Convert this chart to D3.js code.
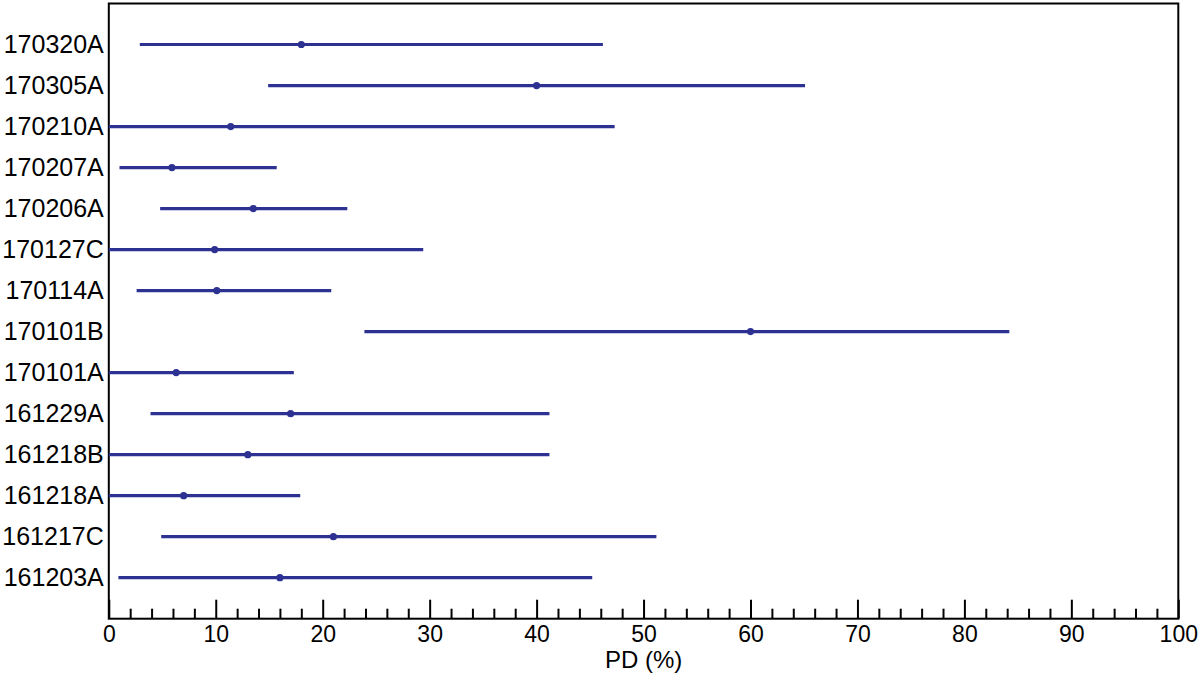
<!DOCTYPE html>
<html><head><meta charset="utf-8">
<script src="https://cdn.jsdelivr.net/npm/d3@7"></script>
<style>
body{margin:0;background:#fff;}
svg{display:block;font-family:"Liberation Sans",Arial,Helvetica,sans-serif;}
</style></head>
<body>
<svg id="chart" width="1200" height="678"></svg>
<script>
const categories = ["170320A","170305A","170210A","170207A","170206A","170127C","170114A","170101B","170101A","161229A","161218B","161218A","161217C","161203A"];
const pdValue = [18.0,40.0,11.4,5.9,13.5,9.9,10.1,60.0,6.3,17.0,13.0,7.0,21.0,16.0];
const pdLow   = [2.9,14.9,0,1.0,4.8,0,2.6,23.9,0,3.9,0,0,4.9,0.9];
const pdHigh  = [46.2,65.1,47.3,15.7,22.3,29.4,20.8,84.2,17.3,41.2,41.2,17.9,51.2,45.2];
const majorTicks = [0,10,20,30,40,50,60,70,80,90,100];
const xLabel = "PD (%)";

const svg = d3.select("#chart");
const L = 108.8, R = 1178.3, T = 3.5, B = 618.7;
const color = "#2d3192";

const x = d3.scaleLinear().domain([0,100]).range([L,R]);
const y = d3.scalePoint().domain(categories).range([T,B]).padding(1);

const data = categories.map((c,i)=>({c,v:pdValue[i],lo:pdLow[i],hi:pdHigh[i]}));

// frame
svg.append("rect").attr("x",L).attr("y",T).attr("width",R-L).attr("height",B-T)
  .attr("fill","none").attr("stroke","#000").attr("stroke-width",2);

// x axis: inward ticks
const minorTicks = d3.range(0,101,2).filter(t=>t%10!==0);
const xAxisMajor = d3.axisBottom(x).tickValues(majorTicks).tickSize(-19).tickPadding(7).tickFormat(d3.format("d"));
const gx = svg.append("g").attr("transform",`translate(0,${B})`).call(xAxisMajor);
gx.select(".domain").remove();
gx.selectAll(".tick line").attr("stroke","#000").attr("stroke-width",2);
gx.selectAll(".tick text").attr("font-size",23).attr("fill","#000").attr("font-family","Liberation Sans, Arial, sans-serif");
const gxm = svg.append("g").attr("transform",`translate(0,${B})`)
  .call(d3.axisBottom(x).tickValues(minorTicks).tickSize(-10).tickFormat(""));
gxm.select(".domain").remove();
gxm.selectAll(".tick line").attr("stroke","#000").attr("stroke-width",2);

// y axis labels
const gy = svg.append("g").attr("transform",`translate(${L},0)`)
  .call(d3.axisLeft(y).tickSize(0).tickPadding(5));
gy.select(".domain").remove();
gy.selectAll(".tick text").attr("font-size",25).attr("fill","#000").attr("font-family","Liberation Sans, Arial, sans-serif");

// x label
svg.append("text").attr("x",(L+R)/2).attr("y",668).attr("text-anchor","middle")
  .attr("font-size",24).attr("fill","#000").text(xLabel);

// error bars
svg.append("g").selectAll("line").data(data).join("line")
  .attr("x1",d=>x(d.lo)).attr("x2",d=>x(d.hi))
  .attr("y1",d=>y(d.c)).attr("y2",d=>y(d.c))
  .attr("stroke",color).attr("stroke-width",3.2);
svg.append("g").selectAll("circle").data(data).join("circle")
  .attr("cx",d=>x(d.v)).attr("cy",d=>y(d.c)).attr("r",3.6).attr("fill",color);
</script>
</body></html>
